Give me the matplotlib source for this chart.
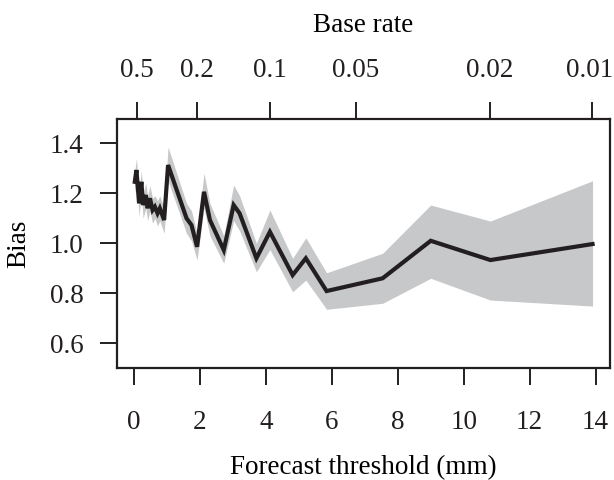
import matplotlib
matplotlib.use("Agg")
import matplotlib.pyplot as plt
from matplotlib.transforms import ScaledTranslation

# forecast threshold (mm) and bias with its confidence band
threshold = [0.02, 0.07, 0.15, 0.22, 0.27, 0.355, 0.41, 0.48, 0.56, 0.63, 0.71, 0.78, 0.91,
             1.03, 1.59, 1.74, 1.91, 2.12, 2.30, 2.72, 3.02, 3.20, 3.71, 4.12, 4.81, 5.21,
             5.84, 7.54, 9.00, 10.81, 13.91]
bias = [1.246, 1.293, 1.160, 1.246, 1.153, 1.193, 1.140, 1.180, 1.133, 1.146, 1.120, 1.140, 1.093,
        1.313, 1.100, 1.073, 0.986, 1.206, 1.093, 0.973, 1.153, 1.120, 0.940, 1.046, 0.873, 0.940,
        0.809, 0.860, 1.010, 0.933, 0.997]
lower = [1.20, 1.25, 1.11, 1.20, 1.10, 1.14, 1.09, 1.13, 1.08, 1.10, 1.07, 1.09, 1.04,
         1.25, 1.04, 1.01, 0.933, 1.14, 1.03, 0.920, 1.09, 1.05, 0.886, 0.975, 0.806, 0.853,
         0.736, 0.760, 0.860, 0.773, 0.749]
upper = [1.29, 1.34, 1.21, 1.29, 1.20, 1.24, 1.19, 1.23, 1.18, 1.19, 1.17, 1.19, 1.14,
         1.385, 1.16, 1.13, 1.04, 1.28, 1.16, 1.03, 1.233, 1.19, 1.00, 1.133, 0.94, 1.022,
         0.882, 0.960, 1.153, 1.089, 1.250]

# base rate ticks on the top axis, placed at their forecast threshold
base_rate_pos = [0.09, 1.91, 4.12, 6.72, 10.79, 13.90]
base_rate_labels = ["0.5", "0.2", "0.1", "0.05", "0.02", "0.01"]

plt.rcParams["font.family"] = ["Liberation Serif", "DejaVu Serif"]
plt.rcParams["font.size"] = 19.5
ink = "#231f20"

fig = plt.figure(figsize=(6.14, 4.8), dpi=100)
ax = fig.add_axes([0.190, 0.2327, 0.8035, 0.5193])

ax.fill_between(threshold, lower, upper, color="#c7c8ca", linewidth=0)
ax.plot(threshold, bias, color=ink, linewidth=3, solid_joinstyle="miter")

ax.set_xlim(-0.53, 14.44)
ax.set_ylim(0.5, 1.497)
ax.set_xticks(range(0, 15, 2))
ax.set_yticks([0.6, 0.8, 1.0, 1.2, 1.4])
ax.set_yticklabels(["0.6", "0.8", "1.0", "1.2", "1.4"])

for s in ax.spines.values():
    s.set_linewidth(1.6)
    s.set_color(ink)

ax.tick_params(axis="x", direction="out", length=12, width=1.4, pad=18, colors=ink)
ax.tick_params(axis="y", direction="out", length=12, width=1.4, pad=12, colors=ink)

top = ax.secondary_xaxis("top")
top.set_xticks(base_rate_pos)
top.set_xticklabels(base_rate_labels)
top.tick_params(direction="out", length=12, width=1.4, pad=14, colors=ink)
top.spines["top"].set_visible(False)
# the last label sits against the right edge, nudge it in a little
last = top.get_xticklabels()[-1]
last.set_transform(last.get_transform() + ScaledTranslation(-3 / 100, 0, fig.dpi_scale_trans))

cx = 0.5 * (0.190 + 0.9935)
fig.text(cx, 1 - 474 / 480, "Forecast threshold (mm)", ha="center", va="baseline")
fig.text(cx, 1 - 32 / 480, "Base rate", ha="center", va="baseline")
fig.text(19 / 614, 1 - 244 / 480, "Bias", ha="center", va="center", rotation=90)

fig.savefig("out.png", dpi=100)
plt.close(fig)
